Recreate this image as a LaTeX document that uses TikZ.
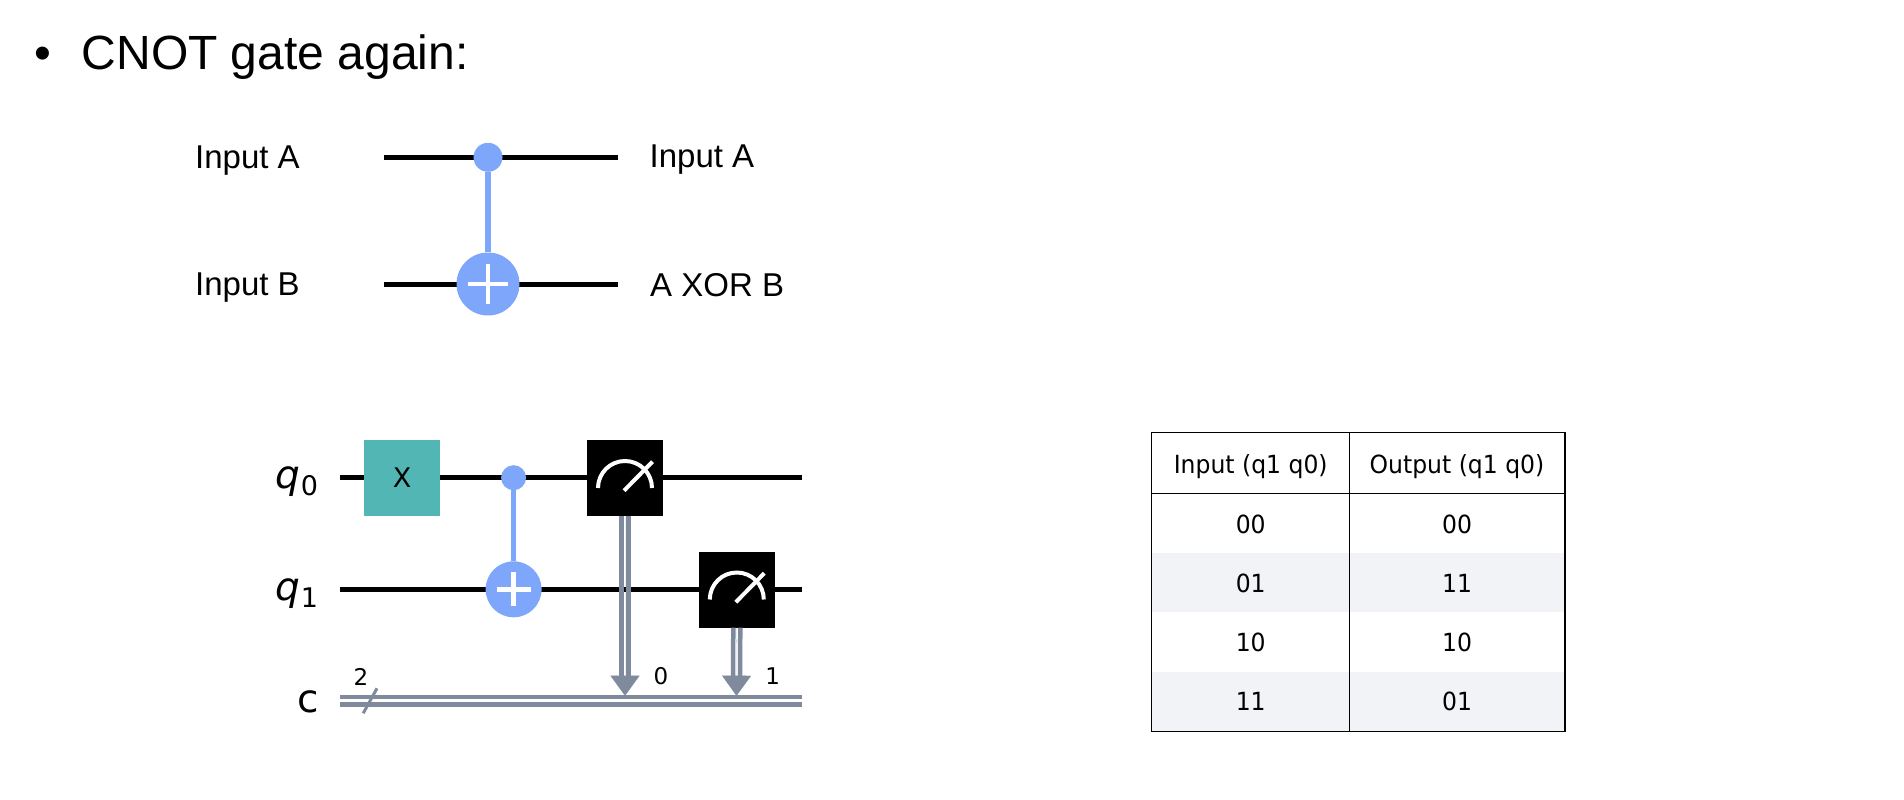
\documentclass[tikz,border=0pt]{standalone}
\usepackage{fontspec}
\setmainfont{Liberation Sans}
\newfontfamily\dejavu{DejaVu Sans}
\newfontfamily\dejavuobl{DejaVu Sans Oblique}
\newfontfamily\tablefont{DejaVu Sans}[FakeStretch=0.94]
\usetikzlibrary{arrows.meta,backgrounds,calc}
\definecolor{gateblue}{HTML}{7EA6FA}
\definecolor{gateteal}{HTML}{52B7B4}
\definecolor{classic}{HTML}{7F8B9C}
\definecolor{rowshade}{HTML}{F2F3F7}
\newcommand{\fsize}[1]{\fontsize{#1}{#1}\selectfont}
\tikzset{
  x=1pt,y=-1pt,
  label text/.style={inner sep=0,anchor=base west,font=\fsize{33}},
  title text/.style={inner sep=0,anchor=base west,font=\fsize{48}},
  wire/.style={line width=5pt,black},
  ctrl/.style={circle,fill=gateblue,inner sep=0},
  link/.style={line width=5.4pt,gateblue},
  plusarm/.style={line width=4.5pt,white},
  gatebox/.style={rectangle,inner sep=0,minimum width=76pt,minimum height=76pt},
  classical/.style={line width=4.5pt,classic},
  measure arrow/.style={line width=0.01pt,classic,-{Triangle[length=20pt,width=29pt]}},
  meter/.style={line width=4pt,white},
  reg text/.style={inner sep=0,anchor=base,font=\dejavu\fsize{39}},
  reg slanted/.style={inner sep=0,anchor=base,font=\dejavuobl\fsize{39}},
  sub text/.style={inner sep=0,anchor=base,font=\dejavu\fsize{27}},
  small text/.style={inner sep=0,anchor=base,font=\dejavu\fsize{23}},
  cell/.style={inner sep=0,anchor=base,font=\tablefont\fsize{25}},
  rule/.style={line width=1.5pt,black}
}
\begin{document}
\begin{tikzpicture}
\useasboundingbox (0,0) rectangle (1904,800);
% title
\node[title text] (bullet) at (34,70) {•};
\node[title text] (title) at (81.5,70) {CNOT gate again:};
% first circuit
\node[label text] (ia) at (195,168) {Input A};
\node[label text] (ib) at (195,295) {Input B};
\node[label text] (oa) at (649.5,167) {Input A};
\node[label text] (ob) at (650,296) {A XOR B};
\coordinate (a1) at (383.5,157.3);
\coordinate (a2) at (618,157.3);
\coordinate (b1) at (383.5,284);
\coordinate (b2) at (618,284);
\draw[wire] (a1) -- (a2);
\draw[wire] (b1) -- (b2);
\node[ctrl,minimum size=29pt] (actl) at (488,157.3) {};
\node[ctrl,minimum size=63pt] (atg) at (488,284) {};
\draw[link] (actl) -- (atg);
\draw[plusarm] ($(atg)+(-20,0)$) -- ($(atg)+(20,0)$);
\draw[plusarm] ($(atg)+(0,-20)$) -- ($(atg)+(0,20)$);
% second circuit
\node[reg slanted] (q0) at (288,488) {q};
\node[sub text] (q0s) at (309.5,495) {0};
\node[reg slanted] (q1) at (288,600) {q};
\node[sub text] (q1s) at (309.5,607) {1};
\node[reg text] (creg) at (308,712.5) {c};
\coordinate (w01) at (339.5,477.7);
\coordinate (w02) at (801.5,477.7);
\coordinate (w11) at (339.5,589.3);
\coordinate (w12) at (801.5,589.3);
\coordinate (c1) at (339.5,700.8);
\coordinate (c2) at (801.5,700.8);
\draw[wire] (w01) -- (w02);
\draw[wire] (w11) -- (w12);
\node[gatebox,fill=gateteal] (xg) at (402,478) {};
\node[inner sep=0,anchor=base,font=\dejavu\fsize{27}] (xl) at (402,487) {X};
\node[ctrl,minimum size=25pt] (ctl) at (513.6,477.7) {};
\node[ctrl,minimum size=56pt] (tg) at (513.6,589.3) {};
\draw[link] (ctl) -- (tg);
\draw[plusarm] ($(tg)+(-17,0)$) -- ($(tg)+(17,0)$);
\draw[plusarm] ($(tg)+(0,-17)$) -- ($(tg)+(0,17)$);
% classical register
\coordinate (c0in) at (625,695.7);
\coordinate (c1in) at (736.5,695.7);
\draw[classical] ($(c1)+(0,-3.65)$) -- ($(c2)+(0,-3.65)$);
\draw[classical] ($(c1)+(0,3.65)$) -- ($(c2)+(0,3.65)$);
\coordinate (sl1) at (377,688.3);
\coordinate (sl2) at (363.2,713.3);
\draw[line width=3pt,classic] (sl1) -- (sl2);
\node[small text] (cn) at (361,685) {2};
\node[small text] (l0) at (661,684) {0};
\node[small text] (l1) at (772.7,684) {1};
% measurements
\node[gatebox,fill=black] (m0) at (625,478) {};
\node[gatebox,fill=black] (m1) at (736.8,589.5) {};
\draw[classical] ($(m0.south)+(-3.5,0)$) -- ($(c0in)+(-3.5,-12)$);
\draw[classical] ($(m0.south)+(3.5,0)$) -- ($(c0in)+(3.5,-12)$);
\draw[classical] ($(m1.south)+(-3.5,0)$) -- ($(c1in)+(-3.5,-12)$);
\draw[classical] ($(m1.south)+(3.5,0)$) -- ($(c1in)+(3.5,-12)$);
\draw[measure arrow] (m0.south) -- (c0in);
\draw[measure arrow] (m1.south) -- (c1in);
\draw[meter] ($(m0)+(-27,10)$) arc[start angle=180,end angle=0,radius=27pt];
\draw[meter] ($(m0)+(-1,12.7)$) -- ($(m0)+(27.5,-16.3)$);
\draw[meter] ($(m1)+(-27,10)$) arc[start angle=180,end angle=0,radius=27pt];
\draw[meter] ($(m1)+(-1,12.7)$) -- ($(m1)+(27.5,-16.3)$);
% table
\fill[rowshade] (1151.7,553.3) rectangle (1565,612.3);
\fill[rowshade] (1151.7,671.7) rectangle (1565,731.7);
\draw[rule] (1151.7,432.7) rectangle (1565,731.7);
\draw[rule] (1151.7,493.3) -- (1565,493.3);
\draw[rule] (1349.7,432.7) -- (1349.7,731.7);
\node[cell] (h1) at (1250.7,473) {Input (q1 q0)};
\node[cell] (h2) at (1457,473) {Output (q1 q0)};
\node[cell] (r1a) at (1250.7,533) {00};
\node[cell] (r1b) at (1457,533) {00};
\node[cell] (r2a) at (1250.7,592) {01};
\node[cell] (r2b) at (1457,592) {11};
\node[cell] (r3a) at (1250.7,651.7) {10};
\node[cell] (r3b) at (1457,651.7) {10};
\node[cell] (r4a) at (1250.7,710.7) {11};
\node[cell] (r4b) at (1457,710.7) {01};
\end{tikzpicture}
\end{document}
